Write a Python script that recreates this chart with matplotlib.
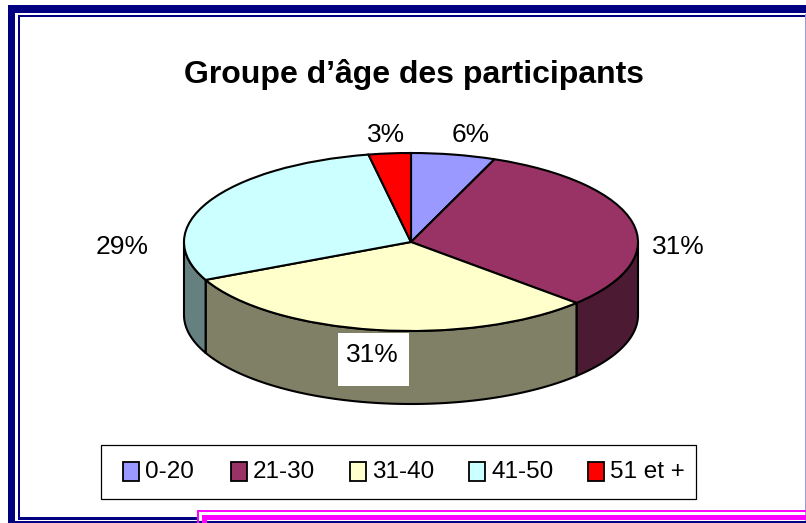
import numpy as np
import matplotlib
matplotlib.use("Agg")
import matplotlib.pyplot as plt
from matplotlib.patches import Rectangle, Polygon

plt.rcParams['font.family'] = ['Liberation Sans', 'DejaVu Sans']

title = "Groupe d’âge des participants"
categories = ["0-20", "21-30", "31-40", "41-50", "51 et +"]
values = [6, 31, 31, 29, 3]
labels = ["6%", "31%", "31%", "29%", "3%"]
colors = ["#9999FF", "#993366", "#FFFFCC", "#CCFFFF", "#FF0000"]
side_colors = ["#4D4D80", "#4D1A33", "#808066", "#668080", "#800000"]

W, H = 806, 523
cx, cy, rx, ry, depth = 411, 242, 227, 89, 73

fig = plt.figure(figsize=(W / 100, H / 100), dpi=100, facecolor="white")

ov = fig.add_axes([0, 0, 1, 1], zorder=1)
ov.set_xlim(0, W)
ov.set_ylim(H, 0)
ov.axis("off")

def band(x0, y0, x1, y1, c, z=1):
    ov.add_patch(Rectangle((x0, y0), x1 - x0, y1 - y0, fc=c, ec="none", zorder=z))

navy = "#000080"
band(7.5, 5, W, 12.5, navy)
band(7.5, 5, 15, H, navy)
band(18, 14.5, W, 17, navy)
band(18, 14.5, 20, 519, navy)
band(18, 517, 197, 519.5, navy)
band(7.5, 521, W, H, navy)
band(805, 14, W, 521, "#9999DD")
band(197, 510, W, 512, "#FF00FF", 2)
band(197, 510, 199, H, "#FF00FF", 2)
band(202, 515, W, 520, "#FF00FF", 2)
band(202, 515, 207, H, "#FF00FF", 2)

ov.text(414, 83, title, ha="center", va="baseline", fontsize=23, fontweight="bold", color="black")

ax = fig.add_axes([0, 0, 1, 1], zorder=2)
ax.patch.set_alpha(0)
wedges, _ = ax.pie(values, colors=colors, startangle=90, counterclock=False, radius=1,
                   wedgeprops=dict(edgecolor="black", linewidth=1.5, zorder=5))
ax.set_aspect("auto")
ax.set_xlim((0 - cx) / rx, (W - cx) / rx)
ax.set_ylim((cy - H) / ry, cy / ry)
ax.axis("off")

d = depth / ry
frac = np.cumsum([0] + values) / sum(values) * 360
for i in range(len(values)):
    a0, a1 = max(frac[i], 90), min(frac[i + 1], 270)
    if a1 <= a0:
        continue
    t = np.radians(np.linspace(a0, a1, 80))
    x, y = np.sin(t), np.cos(t)
    pts = np.r_[np.c_[x, y], np.c_[x[::-1], y[::-1] - d]]
    ax.add_patch(Polygon(pts, closed=True, fc=side_colors[i], ec="black", lw=1.5, zorder=3))

label_pos = [(471, 142), (678, 254), (372, 362), (122, 254), (386, 142)]
for i, (lab, (px, py)) in enumerate(zip(labels, label_pos)):
    q = ax.transData.inverted().transform(ov.transData.transform((px, py)))
    ax.text(q[0], q[1], lab, ha="center", va="baseline", fontsize=19, color="black", zorder=9)

p0 = ax.transData.inverted().transform(ov.transData.transform((338, 386)))
p1 = ax.transData.inverted().transform(ov.transData.transform((409, 333)))
ax.add_patch(Rectangle(p0, p1[0] - p0[0], p1[1] - p0[1], fc="white", ec="none", zorder=8))

ov3 = fig.add_axes([0, 0, 1, 1], zorder=3)
ov3.set_xlim(0, W)
ov3.set_ylim(H, 0)
ov3.axis("off")
ov3.add_patch(Rectangle((101, 445), 596, 55, fc="#808080", ec="none"))
ov3.add_patch(Rectangle((100.5, 444.5), 595, 54.5, fc="white", ec="black", lw=0.9))
swatch_x = [123, 231, 350, 469, 588]
for sx, cat, c in zip(swatch_x, categories, colors):
    ov3.add_patch(Rectangle((sx, 462), 16, 19, fc=c, ec="black", lw=1.3))
    ov3.text(sx + 22, 478, cat, ha="left", va="baseline", fontsize=17.5, color="black")

fig.savefig("out.png", dpi=100)
